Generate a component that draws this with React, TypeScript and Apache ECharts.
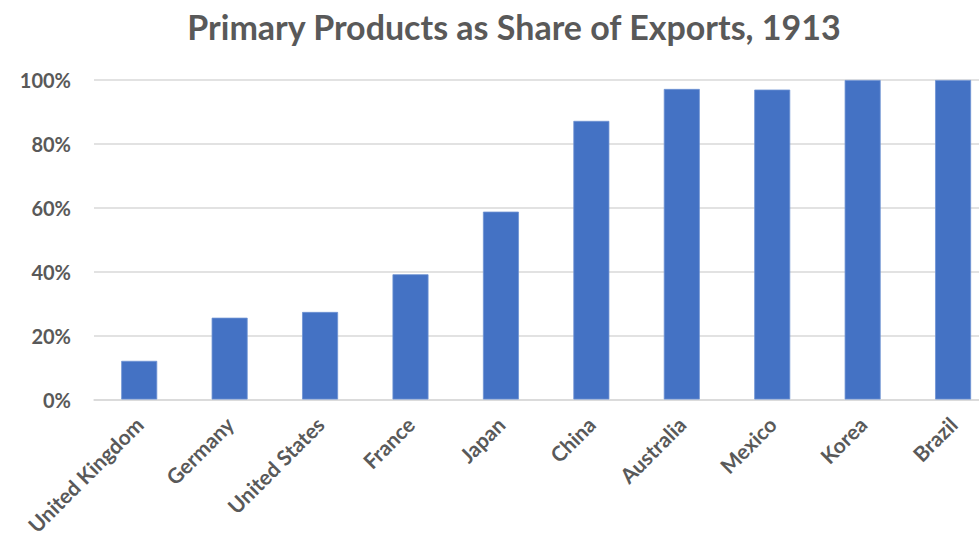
import React, { useEffect, useRef } from "react";
import * as echarts from "echarts";

const titleText = "Primary Products as Share of Exports, 1913";
const categories = ["United Kingdom", "Germany", "United States", "France", "Japan", "China", "Australia", "Mexico", "Korea", "Brazil"];
const shares = [12.1, 25.6, 27.4, 39.2, 58.8, 87.2, 97.2, 97.0, 100, 100];
const yTicks = [0, 20, 40, 60, 80, 100];

const FONT = "Lato, 'Open Sans', sans-serif";
const GRAY = "#595959";

export default function App() {
  const ref = useRef<HTMLDivElement>(null);
  useEffect(() => {
    if (!ref.current) return;
    const chart = echarts.init(ref.current, undefined, { renderer: "svg" });
    chart.setOption({
      animation: false,
      backgroundColor: "#ffffff",
      graphic: [
        {
          type: "text",
          x: 514,
          y: 26,
          style: {
            text: titleText,
            fontFamily: FONT,
            fontSize: 34,
            fontWeight: "bold",
            fill: GRAY,
            textAlign: "center",
            textVerticalAlign: "middle",
          },
        },
      ],
      grid: {
        left: 94,
        right: 1.7,
        top: 80,
        bottom: 141.5,
        containLabel: false,
        outerBoundsMode: "none",
      },
      xAxis: {
        type: "category",
        data: categories,
        axisTick: { show: false },
        axisLine: { show: true, lineStyle: { color: "#d9d9d9", width: 1.5 } },
        axisLabel: {
          rotate: 45,
          interval: 0,
          margin: 21,
          color: GRAY,
          fontFamily: FONT,
          fontSize: 21,
          fontWeight: "bold",
        },
      },
      yAxis: {
        type: "value",
        min: yTicks[0],
        max: yTicks[yTicks.length - 1],
        interval: 20,
        axisLine: { show: false },
        axisTick: { show: false },
        splitLine: { lineStyle: { color: "#d9d9d9", width: 1.5 } },
        axisLabel: {
          formatter: "{value}%",
          margin: 23,
          color: GRAY,
          fontFamily: FONT,
          fontSize: 20,
          fontWeight: "bold",
        },
      },
      series: [
        {
          type: "bar",
          data: shares,
          barWidth: 36,
          itemStyle: { color: "#4472C4", borderColor: "#6f93d3", borderWidth: 0.8 },
        },
      ],
    });
    return () => chart.dispose();
  }, []);
  return <div ref={ref} style={{ position: "fixed", left: 0, top: 0, width: 1000, height: 541 }} />;
}
